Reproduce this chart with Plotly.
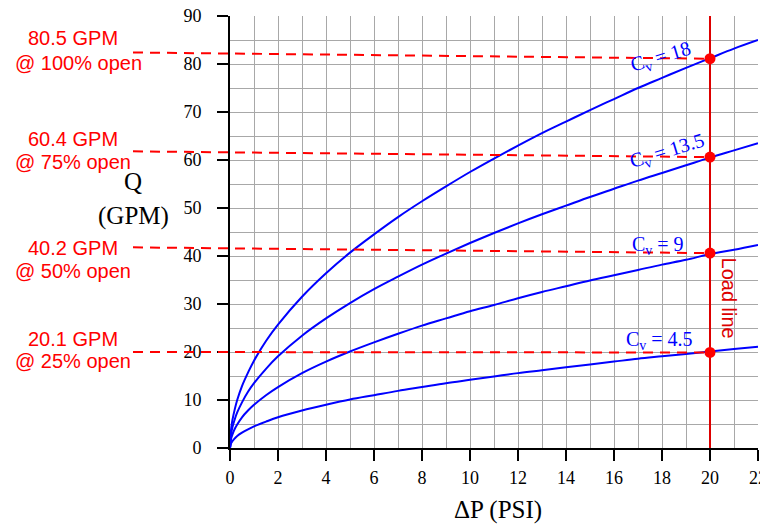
import plotly.graph_objects as go

# ---- data ----
dp = [0, 0.05, 0.1, 0.2, 0.3, 0.5, 0.75, 1, 1.5, 2, 3, 4, 5, 6, 7, 8, 9, 10,
      11, 12, 13, 14, 15, 16, 17, 18, 19, 20, 21, 22]
q_cv18 = [0, 4.1, 5.8, 8.1, 10.0, 12.9, 15.7, 18.2, 22.3, 25.7, 31.5, 36.4, 40.7, 44.5,
          48.1, 51.4, 54.5, 57.5, 60.3, 63.0, 65.6, 68.0, 70.4, 72.7, 75.0, 77.1, 79.2,
          81.2, 83.2, 85.0]
q_cv13_5 = [0, 3.0, 4.3, 6.0, 7.4, 9.5, 11.7, 13.5, 16.5, 19.1, 23.4, 27.0, 30.2, 33.1,
            35.7, 38.2, 40.5, 42.7, 44.8, 46.8, 48.7, 50.5, 52.3, 54.0, 55.7, 57.3, 58.9,
            60.5, 62.0, 63.5]
q_cv9 = [0, 2.0, 2.8, 4.0, 4.9, 6.4, 7.8, 9.0, 11.0, 12.7, 15.6, 18.0, 20.1, 22.0, 23.8,
         25.5, 27.0, 28.5, 29.8, 31.2, 32.5, 33.7, 34.9, 36.0, 37.1, 38.2, 39.2, 40.4,
         41.3, 42.3]
q_cv4_5 = [0, 1.0, 1.4, 2.0, 2.5, 3.2, 3.9, 4.5, 5.5, 6.4, 7.8, 9.0, 10.1, 11.0, 11.9,
           12.7, 13.5, 14.2, 14.9, 15.6, 16.2, 16.8, 17.4, 18.0, 18.6, 19.1, 19.6, 20.1,
           20.6, 21.1]
curves = [q_cv18, q_cv13_5, q_cv9, q_cv4_5]

cv_names = ["18", "13.5", "9", "4.5"]
load_dp = 20
q_at_load = [81.1, 60.6, 40.6, 19.9]
q_dash_left = [82.4, 61.8, 41.8, 20.0]
gpm_labels = ["80.5 GPM", "60.4 GPM", "40.2 GPM", "20.1 GPM"]
open_labels = ["@ 100% open", "@ 75% open", "@ 50% open", "@ 25% open"]

x_ticks = list(range(0, 23, 2))
y_ticks = list(range(0, 91, 10))
X_MAX = 22
Y_MAX = 90

# ---- styling / layout positions ----
SERIF = "Liberation Serif, Times New Roman, serif"
SANS = "Liberation Sans, Arial, sans-serif"
BLUE = "#0000ff"
RED = "#ff0000"
LOAD_RED = "#dd0000"
GRID = "#a8a8a8"

cv_label_pos = [(17.96, 81.4, -17), (18.24, 61.7, -17), (17.85, 42.2, 0), (17.9, 22.4, 0)]
gpm_label_y = [85.4, 64.3, 41.7, 22.8]
open_label_y = [80.2, 59.5, 36.9, 18.1]

# the page body has an 8px margin; the figure is shrunk to compensate
OFF = 8
W, H = 768 - OFF, 518
L, R, T, B = 230 - OFF, 10, 16 - OFF, 78
PW = W - L - R
PH = H - T - B


def px_to_paper_x(px):
    return (px - OFF - L) / PW


def px_to_paper_y(py):
    return (T + PH - (py - OFF)) / PH


fig = go.Figure()

for q in curves:
    fig.add_trace(go.Scatter(x=dp, y=q, mode="lines", line=dict(color=BLUE, width=2, shape="spline"),
                             showlegend=False, hoverinfo="skip"))

# load line
fig.add_trace(go.Scatter(x=[load_dp, load_dp], y=[0, Y_MAX], mode="lines",
                         line=dict(color=LOAD_RED, width=2), showlegend=False, hoverinfo="skip"))
# operating points
fig.add_trace(go.Scatter(x=[load_dp] * len(q_at_load), y=q_at_load, mode="markers",
                         marker=dict(color=RED, size=11), showlegend=False, hoverinfo="skip"))

shapes = []
for yl, yr in zip(q_dash_left, q_at_load):
    shapes.append(dict(type="line", xref="paper", yref="paper",
                       x0=px_to_paper_x(133), x1=load_dp / X_MAX,
                       y0=yl / Y_MAX, y1=yr / Y_MAX,
                       line=dict(color=RED, width=2, dash="10px,7px"), layer="above"))

annotations = []
for name, (x, y, ang) in zip(cv_names, cv_label_pos):
    annotations.append(dict(x=x, y=y, xref="x", yref="y", text="C<sub>v</sub> = " + name,
                            showarrow=False, textangle=ang, xanchor="center", yanchor="middle",
                            font=dict(family=SERIF, size=20, color=BLUE)))
for t1, t2, y1, y2 in zip(gpm_labels, open_labels, gpm_label_y, open_label_y):
    annotations.append(dict(x=px_to_paper_x(73), y=y1, xref="paper", yref="y", text=t1,
                            showarrow=False, xanchor="center", yanchor="middle",
                            font=dict(family=SANS, size=20, color=RED)))
    annotations.append(dict(x=px_to_paper_x(13), y=y2, xref="paper", yref="y", text=t2,
                            showarrow=False, xanchor="left", yanchor="middle",
                            font=dict(family=SANS, size=20, color=RED)))

annotations.append(dict(x=20.8, y=31.3, xref="x", yref="y", text="Load line", showarrow=False,
                        textangle=90, xanchor="center", yanchor="middle",
                        font=dict(family=SANS, size=20, color=LOAD_RED)))
annotations.append(dict(x=px_to_paper_x(133), y=px_to_paper_y(181), xref="paper", yref="paper",
                        text="Q", showarrow=False, xanchor="center", yanchor="middle",
                        font=dict(family=SERIF, size=25, color="black")))
annotations.append(dict(x=px_to_paper_x(133), y=px_to_paper_y(216), xref="paper", yref="paper",
                        text="(GPM)", showarrow=False, xanchor="center", yanchor="middle",
                        font=dict(family=SERIF, size=25, color="black")))
annotations.append(dict(x=px_to_paper_x(498), y=px_to_paper_y(510), xref="paper", yref="paper",
                        text="ΔP (PSI)", showarrow=False, xanchor="center", yanchor="middle",
                        font=dict(family=SERIF, size=25, color="black")))

fig.update_layout(
    width=W, height=H,
    margin=dict(l=L, r=R, t=T, b=B, autoexpand=False),
    paper_bgcolor="white", plot_bgcolor="white",
    shapes=shapes, annotations=annotations,
    xaxis=dict(range=[0, X_MAX], tickvals=x_ticks, ticks="outside", ticklen=11, tickwidth=2,
               tickcolor="black", showline=True, linecolor="black", linewidth=2,
               showgrid=True, gridcolor=GRID, gridwidth=1, zeroline=False,
               minor=dict(dtick=1, tick0=0, showgrid=True, gridcolor=GRID, gridwidth=1),
               tickfont=dict(family=SERIF, size=18, color="black"), ticklabelstandoff=1,
               ticklabeloverflow="allow"),
    yaxis=dict(range=[0, Y_MAX], tickvals=y_ticks, ticks="outside", ticklen=11, tickwidth=2,
               tickcolor="black", showline=True, linecolor="black", linewidth=2,
               showgrid=True, gridcolor=GRID, gridwidth=1, zeroline=False,
               minor=dict(dtick=5, tick0=0, showgrid=True, gridcolor=GRID, gridwidth=1),
               tickfont=dict(family=SERIF, size=18, color="black"), ticklabelstandoff=12,
               ticklabeloverflow="allow"),
)

fig.write_html("out.html")
